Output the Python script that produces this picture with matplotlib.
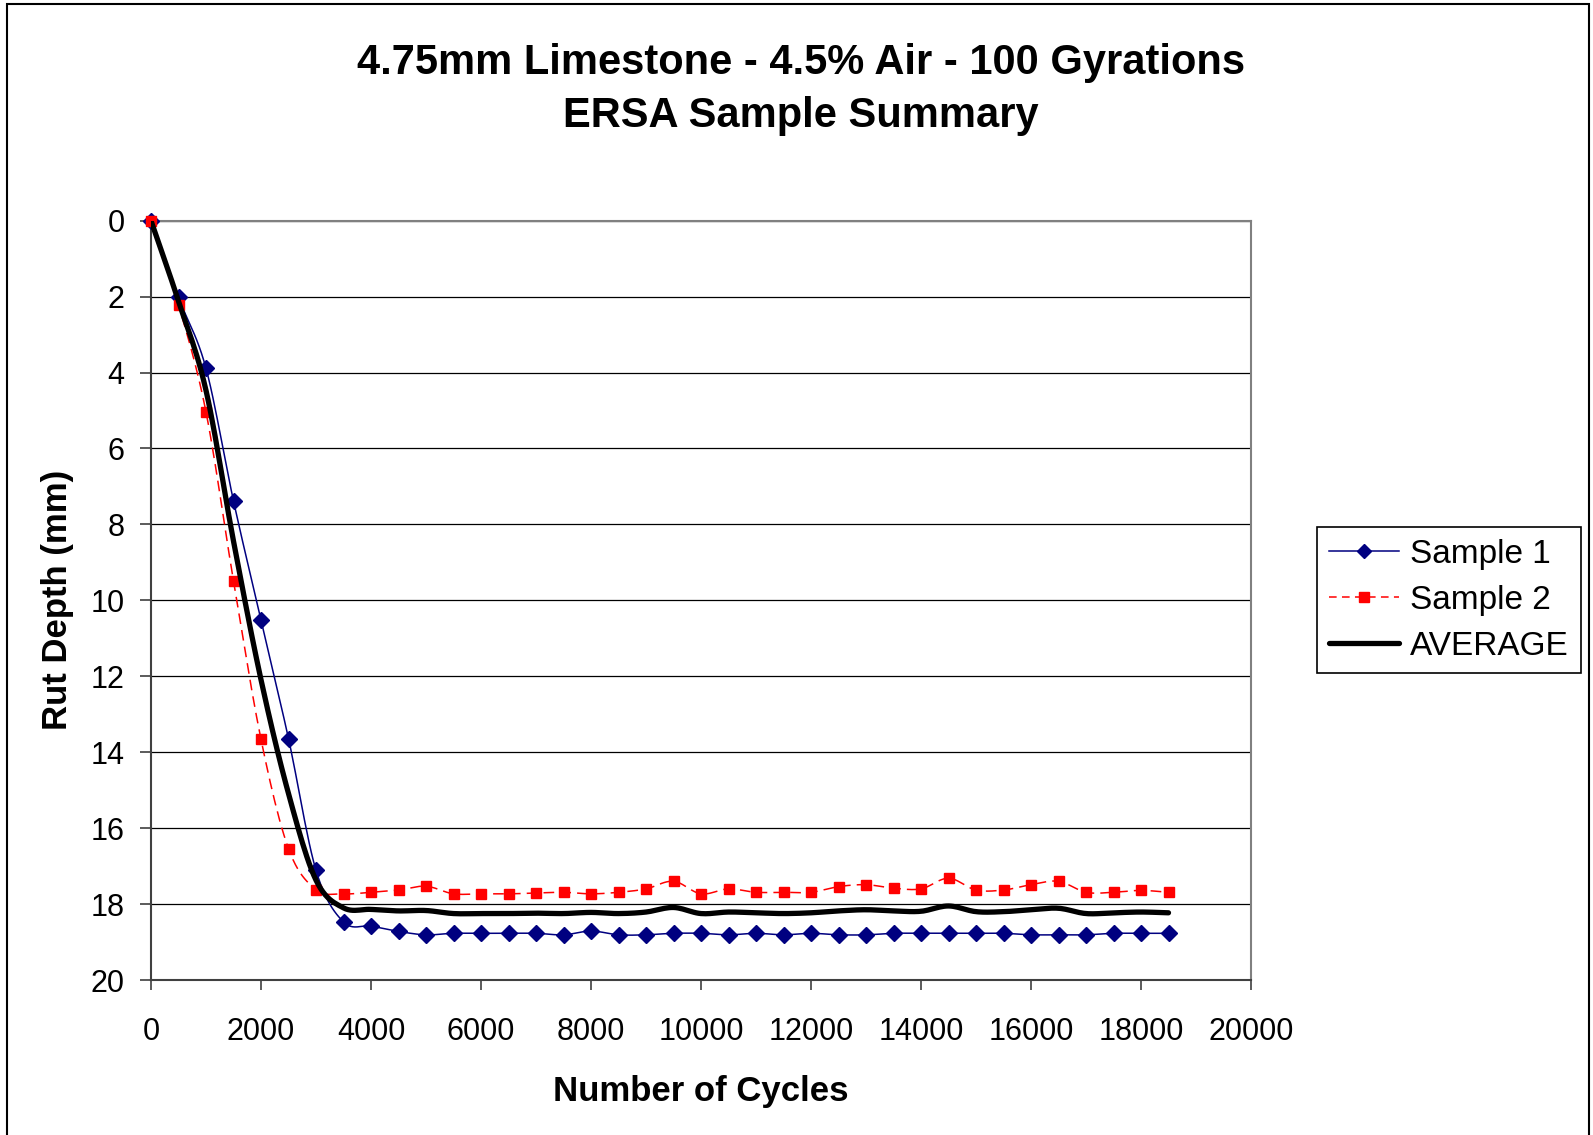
import numpy as np
import matplotlib
matplotlib.use("Agg")
import matplotlib.pyplot as plt
from matplotlib.patches import Rectangle

plt.rcParams['font.family'] = ['Liberation Sans', 'DejaVu Sans']

# cycles (x) and rut depth (mm) for each sample
cycles = [0, 500, 1000, 1500, 2000, 2500, 3000, 3500, 4000, 4500,
          5000, 5500, 6000, 6500, 7000, 7500, 8000, 8500, 9000, 9500,
          10000, 10500, 11000, 11500, 12000, 12500, 13000, 13500, 14000, 14500,
          15000, 15500, 16000, 16500, 17000, 17500, 18000, 18500]

sample1 = [0, 2.02, 3.89, 7.38, 10.52, 13.64, 17.11, 18.47, 18.58, 18.72,
           18.81, 18.77, 18.77, 18.77, 18.77, 18.81, 18.71, 18.81, 18.81, 18.77,
           18.77, 18.81, 18.77, 18.81, 18.77, 18.81, 18.81, 18.77, 18.77, 18.77,
           18.77, 18.77, 18.81, 18.81, 18.81, 18.77, 18.77, 18.77]

sample2 = [0, 2.21, 5.04, 9.49, 13.66, 16.54, 17.62, 17.73, 17.69, 17.63,
           17.53, 17.73, 17.73, 17.73, 17.71, 17.69, 17.73, 17.69, 17.60, 17.40,
           17.73, 17.60, 17.69, 17.69, 17.69, 17.54, 17.49, 17.58, 17.60, 17.32,
           17.63, 17.63, 17.49, 17.40, 17.69, 17.69, 17.64, 17.69]

average = [0, 2.12, 4.47, 8.44, 12.09, 15.09, 17.37, 18.10, 18.14, 18.18,
           18.17, 18.25, 18.25, 18.25, 18.24, 18.25, 18.22, 18.25, 18.21, 18.09,
           18.25, 18.21, 18.23, 18.25, 18.23, 18.18, 18.15, 18.18, 18.19, 18.05,
           18.20, 18.20, 18.15, 18.11, 18.25, 18.23, 18.21, 18.23]

x_ticks = [0, 2000, 4000, 6000, 8000, 10000, 12000, 14000, 16000, 18000, 20000]
y_ticks = [0, 2, 4, 6, 8, 10, 12, 14, 16, 18, 20]


def smooth(x, y, n=12):
    # Catmull-Rom curve through the points, like Excel's "smoothed line"
    x = np.asarray(x, float)
    y = np.asarray(y, float)
    px = np.concatenate([[2 * x[0] - x[1]], x, [2 * x[-1] - x[-2]]])
    py = np.concatenate([[2 * y[0] - y[1]], y, [2 * y[-1] - y[-2]]])
    t = np.linspace(0, 1, n, endpoint=False)
    xs, ys = [], []
    for i in range(1, len(px) - 2):
        for p, out in ((px, xs), (py, ys)):
            p0, p1, p2, p3 = p[i - 1], p[i], p[i + 1], p[i + 2]
            out.extend(0.5 * (2 * p1 + (-p0 + p2) * t
                              + (2 * p0 - 5 * p1 + 4 * p2 - p3) * t ** 2
                              + (-p0 + 3 * p1 - 3 * p2 + p3) * t ** 3))
    xs.append(x[-1])
    ys.append(y[-1])
    return xs, ys


fig = plt.figure(figsize=(15.93, 11.35), dpi=100)
ax = fig.add_axes([151 / 1593, 1 - 980 / 1135, 1100 / 1593, 759.3 / 1135])

navy = '#000080'
red = '#FF0000'

# sample 1
sx, sy = smooth(cycles, sample1)
ax.plot(sx, sy, color=navy, lw=1.1, zorder=3)
ax.plot(cycles, sample1, ls='none', marker='D', ms=8, color=navy, zorder=4,
        clip_on=False)

# sample 2
sx, sy = smooth(cycles, sample2)
ax.plot(sx, sy, color=red, lw=1.1, dashes=(7, 4), zorder=3)
ax.plot(cycles, sample2, ls='none', marker='s', ms=7.5, color=red, zorder=4,
        clip_on=False)

# average
sx, sy = smooth(cycles, average)
ax.plot(sx, sy, color='black', lw=3.8, solid_capstyle='round', zorder=5)

# legend proxies
h1, = ax.plot([], [], color=navy, lw=1.1, marker='D', ms=7.5, label='Sample 1')
h2, = ax.plot([], [], color=red, lw=1.1, dashes=(5, 3.5), marker='s', ms=7, label='Sample 2')
h3, = ax.plot([], [], color='black', lw=3.8, solid_capstyle='round', label='AVERAGE')

ax.set_xlim(0, 20000)
ax.set_ylim(20, 0)
ax.set_xticks(x_ticks)
ax.set_yticks(y_ticks)
ax.yaxis.grid(True, color='black', lw=0.9)
ax.set_axisbelow(True)

for side in ('top', 'right'):
    ax.spines[side].set_color('#808080')
    ax.spines[side].set_linewidth(1.5)
for side in ('left', 'bottom'):
    ax.spines[side].set_color('#404040')
    ax.spines[side].set_linewidth(1.5)

ax.tick_params(axis='both', direction='out', color='#404040', width=1.2,
               labelsize=22)
ax.tick_params(axis='y', length=8, pad=11)
ax.tick_params(axis='x', length=7, pad=20)

ax.set_xlabel('Number of Cycles', fontsize=25, fontweight='bold', labelpad=20)
ax.set_ylabel('Rut Depth (mm)', fontsize=25, fontweight='bold', labelpad=12)

fig.text(801 / 1593, 1 - 63 / 1135, '4.75mm Limestone - 4.5% Air - 100 Gyrations',
         ha='center', va='center', fontsize=30, fontweight='bold')
fig.text(801 / 1593, 1 - 116 / 1135, 'ERSA Sample Summary',
         ha='center', va='center', fontsize=30, fontweight='bold')

leg = fig.legend(handles=[h1, h2, h3], loc='upper left',
                 bbox_to_anchor=(1317 / 1593, 1 - 527 / 1135),
                 fontsize=24, frameon=True, fancybox=False, framealpha=1,
                 edgecolor='black', handlelength=2.1, handletextpad=0.35,
                 labelspacing=0.45, borderpad=0.35, borderaxespad=0)
leg.get_frame().set_linewidth(1.2)

# chart border
fig.patches.append(Rectangle((7 / 1593, -0.05), 1582 / 1593, 1.05 - 4 / 1135,
                             transform=fig.transFigure, fill=False,
                             edgecolor='black', lw=1.5))

plt.savefig('out.png', dpi=100)
